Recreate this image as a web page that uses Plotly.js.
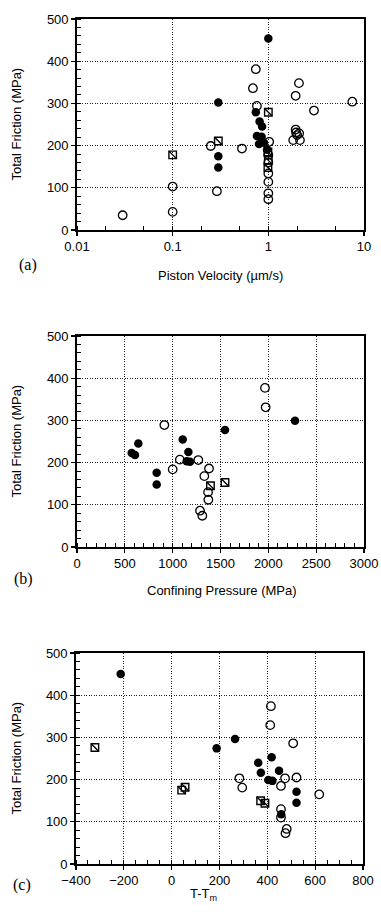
<!DOCTYPE html>
<html>
<head>
<meta charset="utf-8">
<script src="https://cdn.plot.ly/plotly-3.0.1.min.js"></script>
<style>html,body{margin:0;padding:0;background:#fff;}#chart{width:381px;height:915px;}</style>
</head>
<body>
<div id="chart"></div>
<script>
// ---------- Data (a) Piston velocity ----------
const aFilledX = [1, 0.3, 0.3, 0.3, 0.74, 0.81, 0.86, 0.76, 0.85, 0.8, 0.9, 0.97];
const aFilledY = [454, 302, 175, 148, 279, 257, 245, 223, 221, 204, 207, 190];
const aOpenX = [0.03, 0.1, 0.1, 0.29, 0.25, 0.53, 0.74, 0.69, 0.76, 1.02, 1, 1, 1, 1, 1, 1, 1.93, 2.09, 3.0, 7.55, 1.93, 1.95, 1.82, 2.14, 2.0, 2.1];
const aOpenY = [35, 103, 43, 92, 199, 193, 381, 336, 294, 209, 178, 160, 134, 114, 87, 73, 318, 348, 283, 304, 238, 231, 213, 213, 225, 229];
const aSqX = [0.1, 0.3, 1.0, 0.99, 1.0, 0.99];
const aSqY = [178, 211, 279, 185, 165, 148];

// ---------- Data (b) Confining pressure ----------
const bFilledX = [572, 606, 641, 833, 833, 1105, 1164, 1147, 1181, 1547, 2279];
const bFilledY = [223, 218, 245, 176, 148, 255, 225, 203, 202, 277, 299];
const bOpenX = [913, 1000, 1075, 1268, 1380, 1331, 1370, 1373, 1286, 1310, 1965, 1972];
const bOpenY = [289, 184, 207, 206, 186, 168, 130, 112, 86, 74, 377, 331];
const bSqX = [1395, 1547];
const bSqY = [145, 153];

// ---------- Data (c) T - Tm ----------
const cFilledX = [-213, 188, 265, 418, 362, 373, 449, 404, 421, 522, 522, 458];
const cFilledY = [450, 274, 296, 253, 240, 216, 221, 199, 197, 171, 145, 118];
const cOpenX = [283, 295, 474, 522, 457, 617, 457, 457, 481, 476, 415, 412, 508];
const cOpenY = [203, 181, 203, 205, 185, 165, 130, 110, 83, 73, 374, 329, 286];
const cSqX = [-321, 42, 56, 372, 390];
const cSqY = [276, 175, 182, 150, 144];

// ---------- Axis labels ----------
const yTickVals = [0, 100, 200, 300, 400, 500];
const aTickVals = [0.01, 0.1, 1, 10];
const aTickText = ['0.01', '0.1', '1', '10'];
const yTitle = 'Total Friction (MPa)';
const xTitles = ['Piston Velocity (\u00b5m/s)', 'Confining Pressure (MPa)', 'T-T<sub>m</sub>'];
const panelLabels = ['(a)', '(b)', '(c)'];

const W = 381, H = 915;
const MS = 8.5;

function markers(xs, ys, xa, ya) {
  return [
    {x: xs.filled, y: ys.filled, xaxis: xa, yaxis: ya, type: 'scatter', mode: 'markers',
     marker: {symbol: 'circle', size: MS, color: '#000', line: {width: 0}}, hoverinfo: 'x+y'},
    {x: xs.open, y: ys.open, xaxis: xa, yaxis: ya, type: 'scatter', mode: 'markers',
     marker: {symbol: 'circle-open', size: MS, color: '#000', line: {width: 1.3, color: '#000'}}, hoverinfo: 'x+y'},
    {x: xs.sq, y: ys.sq, xaxis: xa, yaxis: ya, type: 'scatter', mode: 'markers',
     marker: {symbol: 'square-open', size: MS - 1, color: '#000', line: {width: 1.4, color: '#000'}}, hoverinfo: 'x+y'},
    {x: xs.sq, y: ys.sq, xaxis: xa, yaxis: ya, type: 'scatter', mode: 'markers',
     marker: {symbol: 'line-nw', size: MS - 1, color: '#000', line: {width: 1.4, color: '#000'}}, hoverinfo: 'skip'}
  ];
}

const data = [].concat(
  markers({filled: aFilledX, open: aOpenX, sq: aSqX}, {filled: aFilledY, open: aOpenY, sq: aSqY}, 'x', 'y'),
  markers({filled: bFilledX, open: bOpenX, sq: bSqX}, {filled: bFilledY, open: bOpenY, sq: bSqY}, 'x2', 'y2'),
  markers({filled: cFilledX, open: cOpenX, sq: cSqX}, {filled: cFilledY, open: cOpenY, sq: cSqY}, 'x3', 'y3')
);

const tickFont = {family: 'Liberation Sans, Arial, sans-serif', size: 13, color: '#000'};
const titleFont = {family: 'Liberation Sans, Arial, sans-serif', size: 13, color: '#000'};

function baseAxis(extra) {
  return Object.assign({
    showline: true, linecolor: '#000', linewidth: 1.8, mirror: true,
    ticks: 'outside', ticklen: 4, tickwidth: 1.2, tickcolor: '#000',
    showgrid: true, gridcolor: '#222', gridwidth: 1, griddash: '1px,1.5px',
    zeroline: false, tickfont: tickFont, fixedrange: true
  }, extra);
}

// plot rectangles in pixels [left, right, top, bottom]
const rects = [[77, 364, 19, 230], [77, 364, 336, 547], [76, 363, 653, 864]];
const dx = r => [r[0] / W, r[1] / W];
const dy = r => [1 - r[3] / H, 1 - r[2] / H];

function yAxis(r, anchor) {
  return baseAxis({domain: dy(r), anchor: anchor, range: [0, 500], tickvals: yTickVals,
    minor: {ticks: 'inside', ticklen: 4, tickwidth: 1, tickcolor: '#000', dtick: 20, showgrid: false}});
}

const layout = {
  width: W, height: H,
  margin: {l: 0, r: 0, t: 0, b: 0},
  paper_bgcolor: '#fff', plot_bgcolor: '#fff',
  showlegend: false,
  xaxis: baseAxis({domain: dx(rects[0]), anchor: 'y', type: 'log', range: [-2, 1],
    tickvals: aTickVals, ticktext: aTickText,
    minor: {ticks: 'inside', ticklen: 4, tickwidth: 1, tickcolor: '#000', dtick: 'D2', showgrid: false}}),
  yaxis: yAxis(rects[0], 'x'),
  xaxis2: baseAxis({domain: dx(rects[1]), anchor: 'y2', range: [0, 3000], dtick: 500, tick0: 0,
    minor: {ticks: 'inside', ticklen: 4, tickwidth: 1, tickcolor: '#000', dtick: 100, showgrid: false}}),
  yaxis2: yAxis(rects[1], 'x2'),
  xaxis3: baseAxis({domain: dx(rects[2]), anchor: 'y3', range: [-400, 800], dtick: 200, tick0: 0,
    minor: {ticks: 'inside', ticklen: 4, tickwidth: 1, tickcolor: '#000', dtick: 50, showgrid: false}}),
  yaxis3: yAxis(rects[2], 'x3'),
  annotations: []
};

// [x center, y, yanchor]
const xTitlePos = [[220, 275, 'middle'], [222, 590, 'middle'], [203, 885, 'top']];
const labelPos = [[28, 265], [23, 579], [22, 885]];
rects.forEach((r, i) => {
  layout.annotations.push({
    text: yTitle, textangle: -90, xref: 'paper', yref: 'paper',
    x: 16 / W, y: 1 - ((r[2] + r[3]) / 2) / H, xanchor: 'center', yanchor: 'middle',
    showarrow: false, font: titleFont
  });
  layout.annotations.push({
    text: xTitles[i], xref: 'paper', yref: 'paper',
    x: xTitlePos[i][0] / W, y: 1 - xTitlePos[i][1] / H, xanchor: 'center', yanchor: xTitlePos[i][2],
    showarrow: false, font: titleFont, borderpad: 0
  });
  layout.annotations.push({
    text: panelLabels[i], xref: 'paper', yref: 'paper',
    x: labelPos[i][0] / W, y: 1 - labelPos[i][1] / H, xanchor: 'center', yanchor: 'middle',
    showarrow: false, font: {family: 'Liberation Serif, Times New Roman, serif', size: 16, color: '#000'}
  });
});

Plotly.newPlot('chart', data, layout, {staticPlot: true, displayModeBar: false});
</script>
</body>
</html>
